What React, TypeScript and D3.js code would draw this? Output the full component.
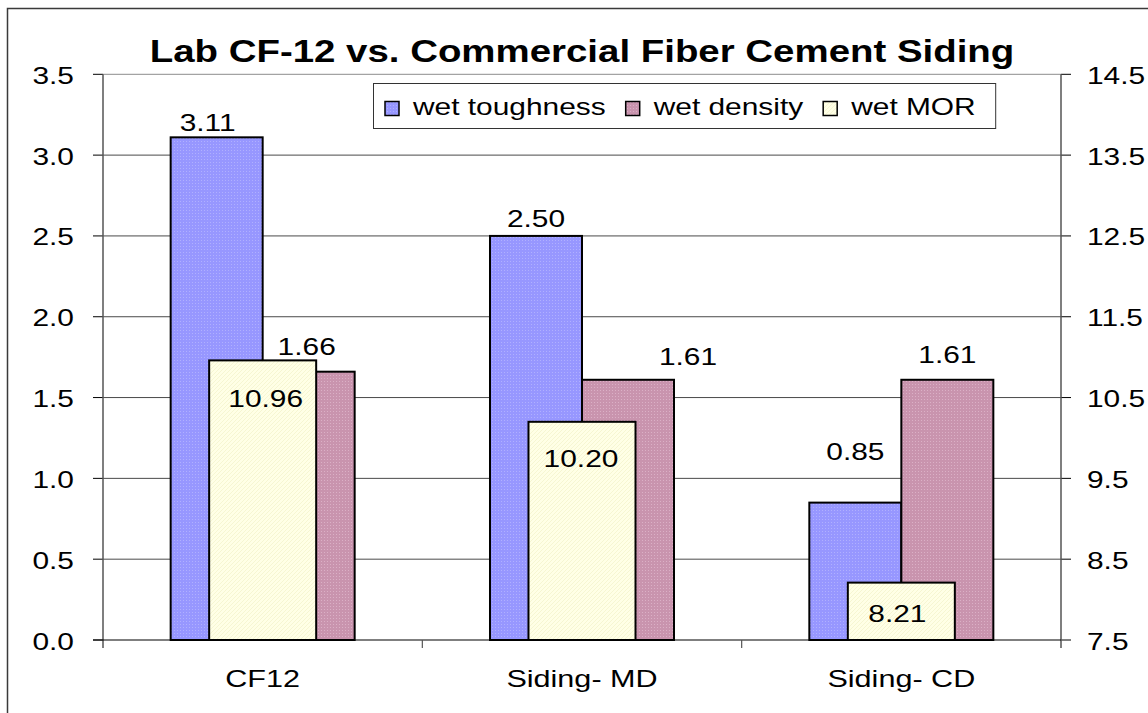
import React, { useEffect, useRef } from "react";
import * as d3 from "d3";

// chart values
const categories = ["CF12", "Siding- MD", "Siding- CD"];
const wetToughness = [3.11, 2.5, 0.85];
const wetDensity = [1.66, 1.61, 1.61];
const wetMOR = [10.96, 10.2, 8.21];
const leftTicks = [0, 0.5, 1, 1.5, 2, 2.5, 3, 3.5];
const rightTicks = [7.5, 8.5, 9.5, 10.5, 11.5, 12.5, 13.5, 14.5];
const seriesNames = ["wet toughness", "wet density", "wet MOR"];

// label nudges (px) – labels in the original were hand placed
const toughLabelNudge = [[-9, -6], [0, -9], [0, -43]];
const densityLabelNudge = [[-2, -17], [60, -15], [0, -17]];
const morLabelNudge = [[3, 47], [-1, 45], [-4, 39]];

const W = 1148;
const H = 713;
const FONT = "'Liberation Sans', Arial, Helvetica, sans-serif";
const STRETCH = 1.3; // the original text is drawn wide

type Sel = d3.Selection<any, any, any, any>;

// text that is stretched horizontally like the original
function wideText(g: Sel, x: number, y: number, txt: string, anchor = "middle", size = 23, sx = STRETCH, weight = "normal") {
    return g.append("text")
        .attr("transform", `translate(${x},${y}) scale(${sx},1)`)
        .attr("text-anchor", anchor)
        .attr("font-family", FONT)
        .attr("font-size", size)
        .attr("font-weight", weight)
        .attr("fill", "#000")
        .text(txt);
}

function drawChart(el: SVGSVGElement) {
    const svg = d3.select(el);
    svg.selectAll("*").remove();

    const plot = { left: 103, right: 1061, top: 74.3, bottom: 640 };

    // patterns for the bar fills
    const defs = svg.append("defs");
    const dotted = (id: string, base: string, dot: string) => {
        const p = defs.append("pattern")
            .attr("id", id)
            .attr("width", 3)
            .attr("height", 3)
            .attr("patternUnits", "userSpaceOnUse");
        p.append("rect").attr("width", 3).attr("height", 3).attr("fill", base);
        p.append("rect").attr("width", 1).attr("height", 1).attr("fill", dot);
    };
    dotted("pat-tough", "#9797ff", "#b0b0ff");
    dotted("pat-dens", "#c994ae", "#dbb0c6");
    const hatch = defs.append("pattern")
        .attr("id", "pat-mor")
        .attr("width", 4)
        .attr("height", 4)
        .attr("patternUnits", "userSpaceOnUse");
    hatch.append("rect").attr("width", 4).attr("height", 4).attr("fill", "#ffffe6");
    hatch.append("path").attr("d", "M0,4 L4,0").attr("stroke", "#f6f6d2").attr("stroke-width", 1);
    const fills = ["url(#pat-tough)", "url(#pat-dens)", "url(#pat-mor)"];

    // background + outer border
    svg.append("rect").attr("width", W).attr("height", H).attr("fill", "#fff");
    svg.append("rect")
        .attr("x", 7.5).attr("y", 8.5)
        .attr("width", W + 20).attr("height", H + 20)
        .attr("fill", "none").attr("stroke", "#3a3a3a").attr("stroke-width", 1.5);

    // Scales
    const x0 = d3.scaleBand<string>().domain(categories).range([plot.left, plot.right]).padding(0);
    const step = x0.bandwidth();
    const x1 = d3.scaleBand<string>()
        .domain(["tough", "dens"])
        .range([0, step])
        .paddingInner(0)
        .paddingOuter(0.7355);
    const x2 = d3.scaleBand<string>()
        .domain(["mor"])
        .range([0, step])
        .paddingInner(0)
        .paddingOuter(0.992);
    const yL = d3.scaleLinear().domain([0, 3.5]).range([plot.bottom, plot.top]);
    const yR = d3.scaleLinear().domain([7.5, 14.5]).range([plot.bottom, plot.top]);

    // Title
    wideText(svg, (plot.left + plot.right) / 2, 62, "Lab CF-12 vs. Commercial Fiber Cement Siding", "middle", 31.5, 1.22, "bold");

    // Gridlines
    svg.append("g")
        .selectAll("line")
        .data(leftTicks.filter(t => t > 0 && t < 3.5))
        .join("line")
        .attr("x1", plot.left).attr("x2", plot.right)
        .attr("y1", d => yL(d)).attr("y2", d => yL(d))
        .attr("stroke", "#4a4a4a").attr("stroke-width", 1);

    // plot area top edge
    svg.append("line")
        .attr("x1", plot.left).attr("x2", plot.right)
        .attr("y1", yL(3.5)).attr("y2", yL(3.5))
        .attr("stroke", "#8c8c8c").attr("stroke-width", 1);

    // Left axis
    const fmt1 = d3.format(".1f");
    const left = svg.append("g");
    left.selectAll("line")
        .data(leftTicks)
        .join("line")
        .attr("x1", plot.left - 10).attr("x2", plot.left)
        .attr("y1", d => yL(d)).attr("y2", d => yL(d))
        .attr("stroke", "#000");
    leftTicks.forEach(t => wideText(left, plot.left - 29, yL(t) + 9.5, fmt1(t), "end"));
    svg.append("line")
        .attr("x1", plot.left).attr("x2", plot.left)
        .attr("y1", plot.top).attr("y2", plot.bottom + 8)
        .attr("stroke", "#555").attr("stroke-width", 1.5);

    // Right axis
    const right = svg.append("g");
    right.selectAll("line")
        .data(rightTicks)
        .join("line")
        .attr("x1", plot.right).attr("x2", plot.right + 10)
        .attr("y1", d => yR(d)).attr("y2", d => yR(d))
        .attr("stroke", "#000");
    rightTicks.forEach(t => wideText(right, plot.right + 26, yR(t) + 9.5, fmt1(t), "start"));
    svg.append("line")
        .attr("x1", plot.right).attr("x2", plot.right)
        .attr("y1", plot.top).attr("y2", plot.bottom + 8)
        .attr("stroke", "#555").attr("stroke-width", 1.5);

    // Bottom axis line + category ticks at boundaries
    svg.append("line")
        .attr("x1", plot.left - 10).attr("x2", plot.right)
        .attr("y1", plot.bottom).attr("y2", plot.bottom)
        .attr("stroke", "#000").attr("stroke-width", 1.2);
    svg.append("g")
        .selectAll("line")
        .data(categories.slice(1))
        .join("line")
        .attr("x1", d => x0(d)!).attr("x2", d => x0(d)!)
        .attr("y1", plot.bottom).attr("y2", plot.bottom + 8)
        .attr("stroke", "#555").attr("stroke-width", 1.2);
    const catG = svg.append("g");
    categories.forEach(c => wideText(catG, x0(c)! + step / 2, 687, c, "middle", 23, 1.33));

    // Bars
    const bars = svg.append("g");
    bars.selectAll("rect.tough")
        .data(wetToughness)
        .join("rect")
        .attr("class", "tough")
        .attr("x", (d, i) => x0(categories[i])! + x1("tough")!)
        .attr("width", x1.bandwidth())
        .attr("y", d => yL(d))
        .attr("height", d => yL(0) - yL(d))
        .attr("fill", fills[0]).attr("stroke", "#000").attr("stroke-width", 2);
    bars.selectAll("rect.dens")
        .data(wetDensity)
        .join("rect")
        .attr("class", "dens")
        .attr("x", (d, i) => x0(categories[i])! + x1("dens")!)
        .attr("width", x1.bandwidth())
        .attr("y", d => yL(d))
        .attr("height", d => yL(0) - yL(d))
        .attr("fill", fills[1]).attr("stroke", "#000").attr("stroke-width", 2);
    bars.selectAll("rect.mor")
        .data(wetMOR)
        .join("rect")
        .attr("class", "mor")
        .attr("x", (d, i) => x0(categories[i])! + x2("mor")!)
        .attr("width", x2.bandwidth())
        .attr("y", d => yR(d))
        .attr("height", d => yR(7.5) - yR(d))
        .attr("fill", fills[2]).attr("stroke", "#000").attr("stroke-width", 2);

    // Data labels
    const fmt = d3.format(".2f");
    const labels = svg.append("g");
    wetToughness.forEach((d, i) => {
        const cx = x0(categories[i])! + x1("tough")! + x1.bandwidth() / 2;
        wideText(labels, cx + toughLabelNudge[i][0], yL(d) + toughLabelNudge[i][1], fmt(d));
    });
    wetDensity.forEach((d, i) => {
        const cx = x0(categories[i])! + x1("dens")! + x1.bandwidth() / 2;
        wideText(labels, cx + densityLabelNudge[i][0], yL(d) + densityLabelNudge[i][1], fmt(d));
    });
    wetMOR.forEach((d, i) => {
        const cx = x0(categories[i])! + x2("mor")! + x2.bandwidth() / 2;
        wideText(labels, cx + morLabelNudge[i][0], yR(d) + morLabelNudge[i][1], fmt(d));
    });

    // Legend
    const legend = svg.append("g");
    const box = legend.append("rect")
        .attr("x", 373.5).attr("y", 83.5)
        .attr("height", 45)
        .attr("fill", "#fff").attr("stroke", "#333").attr("stroke-width", 1);
    let lx = 385;
    seriesNames.forEach((name, i) => {
        legend.append("rect")
            .attr("x", lx).attr("y", 101.5)
            .attr("width", 14).attr("height", 14)
            .attr("fill", fills[i]).attr("stroke", "#000").attr("stroke-width", 1.5);
        const t = wideText(legend, lx + 28, 115, name, "start");
        const w = (t.node() as SVGTextElement).getComputedTextLength() * STRETCH;
        lx = lx + 28 + w + 20;
    });
    box.attr("width", lx - 373.5);
}

export default function App() {
    const ref = useRef<SVGSVGElement>(null);

    useEffect(() => {
        if (ref.current) drawChart(ref.current);
    }, []);

    return (
        <svg
            ref={ref}
            width={W}
            height={H}
            style={{ position: "absolute", left: 0, top: 0, display: "block" }}
        />
    );
}
